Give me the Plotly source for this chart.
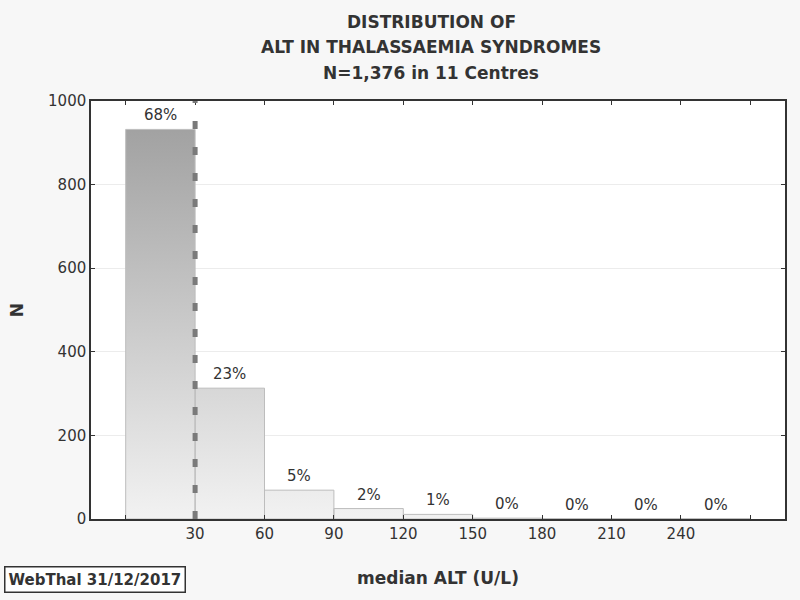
import plotly.graph_objects as go

# histogram of median ALT, 30 U/L bins
bin_edges = [0, 30, 60, 90, 120, 150, 180, 210, 240, 270]
counts = [932, 313, 69, 25, 11, 2, 1, 1, 1]
pct_labels = ["68%", "23%", "5%", "2%", "1%", "0%", "0%", "0%", "0%"]
tick_vals = [0, 30, 60, 90, 120, 150, 180, 210, 240, 270]
tick_text = ["", "30", "60", "90", "120", "150", "180", "210", "240", ""]
title_lines = ["DISTRIBUTION OF", "ALT IN THALASSAEMIA SYNDROMES", "N=1,376 in 11 Centres"]
ref_line = 30

FONT = "DejaVu Sans, Arial, sans-serif"
TXT = "#333333"

# build bar outlines so each bar can take a vertical gradient tied to the y axis
px_, py_ = [], []
for i, c in enumerate(counts):
    x0, x1 = bin_edges[i], bin_edges[i + 1]
    px_ += [x0, x0, x1, x1, x0, None]
    py_ += [0, c, c, 0, 0, None]

fig = go.Figure()
fig.add_trace(go.Scatter(
    x=px_, y=py_, mode="lines", fill="toself",
    line=dict(color="#bdbdbd", width=1),
    fillgradient=dict(type="vertical", start=0, stop=930,
                      colorscale=[[0, "#f2f2f2"], [1, "#a2a2a2"]]),
    hoverinfo="skip", showlegend=False))

centers = [(bin_edges[i] + bin_edges[i + 1]) / 2 for i in range(len(counts))]
for cx, c, lab in zip(centers, counts, pct_labels):
    fig.add_annotation(x=cx, y=c, text=lab, showarrow=False, yanchor="bottom",
                       yshift=3, font=dict(family=FONT, size=15, color=TXT))

fig.add_shape(type="line", x0=ref_line, x1=ref_line, y0=0, y1=1, yref="paper",
              line=dict(color="#7a7a7a", width=5, dash="8px,18px"))

# title lines, one annotation each (pixel rows 22, 48, 73)
for i, line in enumerate(title_lines):
    fig.add_annotation(text="<b>" + line + "</b>", xref="paper", yref="paper",
                       x=0.49, y=(519 - (22 + 25.5 * i)) / 418, yanchor="middle",
                       showarrow=False, font=dict(family=FONT, size=17, color=TXT))

fig.update_layout(
    width=800, height=600,
    margin=dict(l=91, r=15, t=101, b=81),
    paper_bgcolor="#f7f7f7", plot_bgcolor="white",
    font=dict(family=FONT, color=TXT, size=14),
    xaxis=dict(range=[-15, 285], tickvals=tick_vals, ticktext=tick_text,
               ticks="inside", ticklen=4, tickcolor="#333", showgrid=False,
               showline=True, linecolor="#333", linewidth=1.5, mirror="ticks",
               zeroline=False, tickfont=dict(size=15),
               title=dict(text="<b>median ALT (U/L)</b>", font=dict(size=17), standoff=30)),
    yaxis=dict(range=[0, 1000], tickvals=[0, 200, 400, 600, 800, 1000],
               ticks="inside", ticklen=4, tickcolor="#333", showgrid=True,
               gridcolor="#ececec", showline=True, linecolor="#333", linewidth=1.5,
               mirror="ticks", zeroline=False, tickfont=dict(size=15),
               title=dict(text="<b>N</b>", font=dict(size=17), standoff=20)),
)

fig.add_annotation(text="<b>WebThal 31/12/2017</b>", xref="paper", yref="paper",
                   x=-0.125, y=-0.145, xanchor="left", yanchor="middle",
                   showarrow=False, font=dict(size=15, color=TXT),
                   bordercolor="#333", borderwidth=1.5, borderpad=3, bgcolor="white")

fig.write_html("out.html", config={"displayModeBar": False},
               post_script="document.body.style.margin='0';")
